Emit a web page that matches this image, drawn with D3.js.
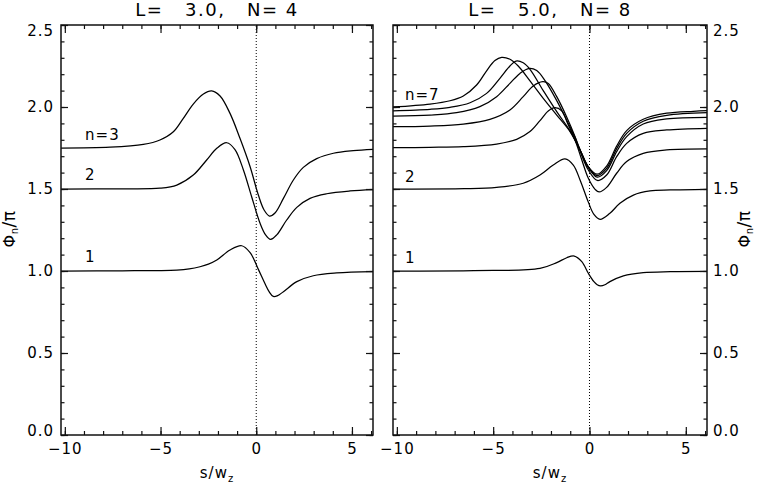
<!DOCTYPE html>
<html><head><meta charset="utf-8">
<script src="https://cdn.jsdelivr.net/npm/d3@7"></script>
<style>
body{margin:0;background:#fff;}
svg{display:block;}
text{font-family:"DejaVu Sans",sans-serif;fill:#000;}
</style></head><body>
<svg id="chart" width="762" height="487"></svg>
<script>
// ---------- data ----------
const xDomain = [-10.2, 6.1];
const yDomain = [0, 2.5];
const xMajorTicks = [-10, -5, 0, 5];
const xMinorTicks = [-10,-9,-8,-7,-6,-5,-4,-3,-2,-1,0,1,2,3,4,5,6];
const yMajorTicks = [0, 0.5, 1.0, 1.5, 2.0, 2.5];
const yMinorTicks = [0,0.1,0.2,0.3,0.4,0.5,0.6,0.7,0.8,0.9,1.0,1.1,1.2,1.3,1.4,1.5,1.6,1.7,1.8,1.9,2.0,2.1,2.2,2.3,2.4,2.5];
const panelTitles = ["L=   3.0,   N= 4", "L=   5.0,   N= 8"];
const xTitle = "s/w";
const xTitleSub = "z";

// left panel (L=3, N=4)
const L1x = [-10.2, -7.0, -4.15, -3.5, -2.94, -2.5, -2.06, -1.37, -0.76, -0.32, 0.11, 0.46, 0.68, 0.89, 1.12, 1.42, 2.12, 2.98, 4.2, 6.1];
const L1y = [1.0, 1.001, 1.006, 1.013, 1.026, 1.042, 1.067, 1.128, 1.154, 1.112, 1.010, 0.922, 0.873, 0.845, 0.850, 0.874, 0.935, 0.971, 0.988, 0.996];
const L2x = [-10.2, -7.0, -5.03, -4.15, -3.29, -2.59, -2.06, -1.54, -1.11, -0.67, -0.24, 0.20, 0.49, 0.75, 1.07, 1.59, 2.12, 2.81, 3.68, 4.90, 6.1];
const L2y = [1.5, 1.501, 1.505, 1.524, 1.585, 1.677, 1.748, 1.782, 1.740, 1.616, 1.453, 1.291, 1.220, 1.193, 1.220, 1.311, 1.388, 1.443, 1.471, 1.488, 1.496];
const L3x = [-10.2, -7.64, -5.9, -5.03, -4.33, -3.81, -3.29, -2.76, -2.33, -1.89, -1.37, -0.85, -0.32, 0.11, 0.41, 0.69, 0.98, 1.42, 1.94, 2.46, 3.16, 4.03, 5.07, 6.1];
const L3y = [1.75, 1.755, 1.772, 1.799, 1.849, 1.931, 2.018, 2.079, 2.098, 2.067, 1.961, 1.809, 1.636, 1.463, 1.372, 1.335, 1.354, 1.443, 1.555, 1.632, 1.685, 1.718, 1.734, 1.742];

// right panel (L=5, N=8)
const R1x = [-10.2, -6.0, -2.57, -1.70, -1.18, -0.79, -0.40, -0.06, 0.23, 0.40, 0.58, 0.80, 1.06, 1.76, 2.79, 4.2, 6.1];
const R1y = [1.0, 1.002, 1.016, 1.051, 1.081, 1.091, 1.057, 0.986, 0.935, 0.916, 0.909, 0.916, 0.935, 0.970, 0.990, 0.996, 0.998];
const R2x = [-10.2, -6.5, -4.82, -3.44, -2.57, -1.88, -1.27, -0.84, -0.49, -0.06, 0.23, 0.55, 1.06, 1.58, 2.28, 3.14, 4.18, 6.1];
const R2y = [1.5, 1.502, 1.510, 1.535, 1.585, 1.646, 1.683, 1.646, 1.555, 1.42, 1.345, 1.315, 1.352, 1.413, 1.463, 1.488, 1.494, 1.498];
const R3x = [-10.2, -8.28, -6.55, -4.82, -3.78, -3.09, -2.57, -2.14, -1.79, -1.44, -1.10, -0.75, -0.41, -0.06, 0.29, 0.50, 0.89, 1.41, 1.93, 2.79, 4.01, 6.1];
const R3y = [1.752, 1.754, 1.758, 1.774, 1.803, 1.850, 1.917, 1.976, 1.996, 1.976, 1.890, 1.799, 1.681, 1.565, 1.498, 1.482, 1.510, 1.596, 1.667, 1.717, 1.738, 1.744];
const R4x = [-10.2, -8.28, -6.55, -5.17, -4.13, -3.44, -2.92, -2.43, -2.14, -1.70, -1.19, -0.75, -0.41, -0.06, 0.41, 0.89, 1.41, 1.93, 2.79, 4.01, 6.1];
const R4y = [1.880, 1.884, 1.896, 1.925, 1.982, 2.063, 2.128, 2.154, 2.144, 2.063, 1.941, 1.819, 1.707, 1.616, 1.552, 1.585, 1.697, 1.778, 1.839, 1.860, 1.870];
const R5x = [-10.2, -8.28, -6.90, -5.69, -4.82, -4.13, -3.61, -3.12, -2.74, -2.31, -1.70, -1.19, -0.75, -0.41, -0.06, 0.40, 0.89, 1.41, 1.93, 2.79, 4.01, 6.1];
const R5y = [1.945, 1.951, 1.965, 2.002, 2.063, 2.144, 2.205, 2.236, 2.222, 2.161, 2.039, 1.921, 1.815, 1.717, 1.632, 1.572, 1.612, 1.728, 1.819, 1.896, 1.927, 1.937];
const R6x = [-10.2, -8.28, -7.24, -6.20, -5.34, -4.65, -4.13, -3.82, -3.44, -3.09, -2.40, -1.70, -1.01, -0.49, -0.06, 0.40, 0.89, 1.41, 1.93, 2.79, 4.01, 6.1];
const R6y = [1.977, 1.986, 1.998, 2.026, 2.083, 2.175, 2.250, 2.280, 2.270, 2.230, 2.100, 1.972, 1.854, 1.738, 1.632, 1.582, 1.626, 1.746, 1.839, 1.913, 1.949, 1.965];
const R7x = [-10.2, -8.28, -7.24, -6.55, -5.86, -5.34, -4.91, -4.56, -4.13, -3.70, -3.09, -2.40, -1.70, -1.01, -0.49, -0.06, 0.40, 0.89, 1.41, 1.93, 2.79, 4.01, 5.39, 6.1];
const R7y = [2.0, 2.018, 2.038, 2.067, 2.134, 2.221, 2.283, 2.303, 2.291, 2.250, 2.160, 2.053, 1.951, 1.850, 1.738, 1.636, 1.590, 1.640, 1.762, 1.856, 1.925, 1.962, 1.974, 1.978];

// curve labels (text, anchor in data units)
const labelTextsL = ["n=3", "2", "1"];
const labelXL = [-8.94, -8.94, -8.94];
const labelYL = [1.80, 1.555, 1.055];
const labelTextsR = ["n=7", "2", "1"];
const labelXR = [-9.58, -9.58, -9.58];
const labelYR = [2.043, 1.543, 1.049];

// ---------- drawing ----------
const svg = d3.select("#chart");
const TOP = 25, BOTTOM = 435;
const AX = "#111";

const panels = [
  {left: 61, right: 373, title: panelTitles[0], labelSide: "left",
   curves: [[L1x, L1y], [L2x, L2y], [L3x, L3y]],
   labels: [labelTextsL, labelXL, labelYL]},
  {left: 393, right: 707, title: panelTitles[1], labelSide: "right",
   curves: [[R1x, R1y], [R2x, R2y], [R3x, R3y], [R4x, R4y], [R5x, R5y], [R6x, R6y], [R7x, R7y]],
   labels: [labelTextsR, labelXR, labelYR]}
];

panels.forEach((p, i) => {
  const x = d3.scaleLinear().domain(xDomain).range([p.left, p.right]);
  const y = d3.scaleLinear().domain(yDomain).range([BOTTOM, TOP]);
  const g = svg.append("g");

  const clipId = "clip" + i;
  svg.append("clipPath").attr("id", clipId).append("rect")
    .attr("x", p.left).attr("y", TOP).attr("width", p.right - p.left).attr("height", BOTTOM - TOP);

  // dotted zero line
  g.append("line").attr("x1", x(0)).attr("x2", x(0)).attr("y1", y(yDomain[0])).attr("y2", y(yDomain[1]))
    .attr("stroke", "#000").attr("stroke-width", 1).attr("stroke-dasharray", "1,2");

  // curves
  const line = d3.line().x(d => x(d[0])).y(d => y(d[1])).curve(d3.curveCatmullRom.alpha(0.5));
  const cg = g.append("g").attr("clip-path", `url(#${clipId})`);
  p.curves.forEach(c => {
    cg.append("path").attr("d", line(d3.zip(c[0], c[1])))
      .attr("fill", "none").attr("stroke", "#000").attr("stroke-width", 1.25)
      .attr("stroke-linejoin", "round");
  });

  // curve labels
  const [lt, lx, ly] = p.labels;
  lt.forEach((t, k) => {
    g.append("text").attr("x", x(lx[k])).attr("y", y(ly[k]))
      .attr("font-size", 15).attr("letter-spacing", 1).text(t);
  });

  // axes
  function styleAxis(sel) {
    sel.select(".domain").remove();
    sel.selectAll(".tick line").attr("stroke", AX).attr("stroke-width", 1.2);
    sel.selectAll(".tick text").attr("font-family", "DejaVu Sans, sans-serif")
      .attr("font-size", 15).attr("letter-spacing", 1).attr("fill", "#000");
  }
  // bottom
  g.append("g").attr("transform", `translate(0,${BOTTOM})`)
    .call(d3.axisBottom(x).tickValues(xMinorTicks).tickSizeInner(-4).tickSizeOuter(0).tickFormat(""))
    .call(styleAxis);
  g.append("g").attr("transform", `translate(0,${BOTTOM})`)
    .call(d3.axisBottom(x).tickValues(xMajorTicks).tickSizeInner(-8).tickSizeOuter(0).tickPadding(8).tickFormat(d3.format("d")))
    .call(styleAxis);
  // top
  g.append("g").attr("transform", `translate(0,${TOP})`)
    .call(d3.axisTop(x).tickValues(xMinorTicks).tickSizeInner(-4).tickSizeOuter(0).tickFormat(""))
    .call(styleAxis);
  g.append("g").attr("transform", `translate(0,${TOP})`)
    .call(d3.axisTop(x).tickValues(xMajorTicks).tickSizeInner(-8).tickSizeOuter(0).tickFormat(""))
    .call(styleAxis);
  // left
  const fmt = d3.format(".1f");
  g.append("g").attr("transform", `translate(${p.left},0)`)
    .call(d3.axisLeft(y).tickValues(yMinorTicks).tickSizeInner(-3.5).tickSizeOuter(0).tickFormat(""))
    .call(styleAxis);
  g.append("g").attr("transform", `translate(${p.left},0)`)
    .call(d3.axisLeft(y).tickValues(yMajorTicks).tickSizeInner(-7).tickSizeOuter(0).tickPadding(7)
      .tickFormat(p.labelSide === "left" ? fmt : ""))
    .call(styleAxis);
  // right
  g.append("g").attr("transform", `translate(${p.right},0)`)
    .call(d3.axisRight(y).tickValues(yMinorTicks).tickSizeInner(-3.5).tickSizeOuter(0).tickFormat(""))
    .call(styleAxis);
  g.append("g").attr("transform", `translate(${p.right},0)`)
    .call(d3.axisRight(y).tickValues(yMajorTicks).tickSizeInner(-7).tickSizeOuter(0).tickPadding(6)
      .tickFormat(p.labelSide === "right" ? fmt : ""))
    .call(styleAxis);

  // nudge edge labels inward like the original
  g.selectAll(".tick text").each(function(d) {
    if (d === yDomain[1]) d3.select(this).attr("dy", "0.72em");
    if (d === yDomain[0] && this.textContent === "0.0") d3.select(this).attr("dy", "0.05em");
  });

  // frame
  g.append("rect").attr("x", p.left).attr("y", TOP).attr("width", p.right - p.left).attr("height", BOTTOM - TOP)
    .attr("fill", "none").attr("stroke", AX).attr("stroke-width", 1.5);

  // title
  g.append("text").attr("x", (p.left + p.right) / 2).attr("y", 16).attr("text-anchor", "middle")
    .attr("font-size", 18).attr("letter-spacing", 1.5).style("white-space", "pre").text(p.title);

  // x title
  const xt = g.append("text").attr("x", (p.left + p.right) / 2).attr("y", 478).attr("text-anchor", "middle")
    .attr("font-size", 15).attr("letter-spacing", 1);
  xt.append("tspan").text(xTitle);
  xt.append("tspan").attr("font-size", 10).attr("dy", 4).text(xTitleSub);

  // y title
  const yx = p.labelSide === "left" ? 15 : 750;
  const yt = g.append("text").attr("transform", `translate(${yx},229) rotate(-90)`)
    .attr("text-anchor", "middle").attr("font-size", 16).attr("letter-spacing", 0.5);
  yt.append("tspan").text("Φ");
  yt.append("tspan").attr("font-size", 10).attr("dy", 3).text("n");
  yt.append("tspan").attr("dy", -3).attr("font-size", 17).text("/π");
});
</script>
</body></html>
